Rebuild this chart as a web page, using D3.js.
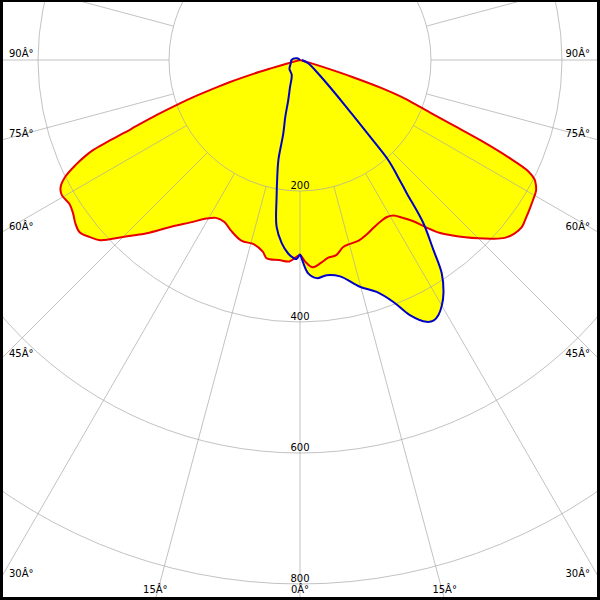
<!DOCTYPE html>
<html><head><meta charset="utf-8">
<script src="https://cdn.jsdelivr.net/npm/d3@7"></script>
<style>html,body{margin:0;padding:0;background:#fff;} svg{display:block}</style>
</head><body>
<script>
// C0-C180 plane (red), angle from nadir in degrees, intensity
const redAngles = [-90,-75,-74.5,-74,-73.7,-73,-72.5,-72,-71,-70,-69,-68,-67.5,-67,-66.5,-66,-65,-63.5,-62,-60.5,-58,-56,-54,-52,-50,-48,-45,-41.5,-38,-34,-30.5,-28,-25,-22,-18,-14,-11,-9.5,-6,-3,0,1.5,3.5,6,8,10.5,13,15,18,21,24,27,29,31,33,35,37,39,41,43,45,47,49,51,53,55,57,59,61,62,63,64,65,66,67,68,69,70,71,72,73,74,75,90];
const redValues = [0,0,20,45,64,92,113,130,165,200,235,270,290,318,344,357,377,401,414,418,415,418,424,427,420,411,382,353,324,299,281,273,273,281,290,290,298,307,307,308,298,308,317,311,305,303,293,291,290,285,279,275,274,277,287,300,320,340,355,370,385,400,414,421,424,421,418,415,412,408,402,388,350,302,250,215,189,165,132,85,40,12,0,0];
// C90-C270 plane (blue)
const blueAngles = [-180,-120,-90,-70,-50,-29,-20,-16.3,-14.5,-12.8,-12.2,-11,-9.7,-8,-5.7,-3.5,-2,-1,0,0.6,2.2,4.4,7.1,10.5,14.8,18.3,21.1,23.3,25.8,27.2,28.5,30,31.6,33.6,35.1,37.1,38.7,40,41.4,42.4,43.4,45,48.9,55,68,90];
const blueValues = [0,5,13,15,21,26,45,64,90,115,156,182,212,257,281,296,302,304,297,305,326,334,331,336,358,373,396,424,444,447,443,433,418,391,354,312,261,232,204,159,126,94,54,30,14,3];
// grid
const ringValues = [200,400,600,800,1000];
const ringLabels = ["200","400","600","800"];
const spokeAngles = [0,15,30,45,60,75,90,105,120,135,150,165,180,195,210,225,240,255,270,285,300,315,330,345];
const sideLabelAngles = [90,75,60,45,30];
const sideLabels = ["90Â°","75Â°","60Â°","45Â°","30Â°"];
const bottomLabelAngles = [-15,0,15];
const bottomLabels = ["15Â°","0Â°","15Â°"];

const W = 600, H = 600, cx = 300, cy = 60;
const r = d3.scaleLinear().domain([0, 200]).range([0, 131]);
const ang = d => Math.PI - d * Math.PI / 180;

const svg = d3.select("body").append("svg").attr("width", W).attr("height", H);
svg.append("rect").attr("width", W).attr("height", H).attr("fill", "#fff");
const g = svg.append("g").attr("transform", `translate(${cx},${cy})`);

const line = d3.lineRadial().curve(d3.curveCatmullRom.alpha(0.5));
const redPts = redAngles.map((a, i) => [ang(a), r(redValues[i])]);
const bluePts = blueAngles.map((a, i) => [ang(a), r(blueValues[i])]);

g.append("path").attr("d", line(redPts) + "Z").attr("fill", "#ffff00").attr("stroke", "none");
g.append("path").attr("d", line(bluePts) + "Z").attr("fill", "#ffff00").attr("stroke", "none");

// grid over the fill
const grid = g.append("g").attr("stroke", "#a8a8a8").attr("stroke-opacity", 0.7).attr("fill", "none").attr("stroke-width", 1);
grid.selectAll("circle").data(ringValues).join("circle").attr("r", d => r(d));
grid.selectAll("line").data(spokeAngles).join("line")
  .attr("x1", d => r(200) * Math.sin(ang(d))).attr("y1", d => -r(200) * Math.cos(ang(d)))
  .attr("x2", d => r(2000) * Math.sin(ang(d))).attr("y2", d => -r(2000) * Math.cos(ang(d)));

g.append("path").attr("d", line(redPts)).attr("fill", "none").attr("stroke", "#e80000").attr("stroke-width", 2).attr("stroke-linejoin", "round");
g.append("path").attr("d", line(bluePts)).attr("fill", "none").attr("stroke", "#0000c8").attr("stroke-width", 2).attr("stroke-linejoin", "round");

const txt = svg.append("g").attr("font-family", "DejaVu Sans, sans-serif").attr("font-size", 10).attr("fill", "#000");
txt.selectAll("text.rv").data(ringLabels).join("text").attr("class", "rv")
  .attr("x", cx).attr("y", d => cy + r(+d) - 2.5).attr("text-anchor", "middle").text(d => d);
const sideY = a => cy + (a === 90 ? 0 : 300 / Math.tan(a * Math.PI / 180)) - 3;
txt.selectAll("text.sl").data(sideLabelAngles).join("text").attr("class", "sl")
  .attr("x", 9).attr("y", d => sideY(d)).text((d, i) => sideLabels[i]);
txt.selectAll("text.sr").data(sideLabelAngles).join("text").attr("class", "sr")
  .attr("x", 590).attr("y", d => sideY(d)).attr("text-anchor", "end").text((d, i) => sideLabels[i]);
txt.selectAll("text.bl").data(bottomLabelAngles).join("text").attr("class", "bl")
  .attr("x", d => cx + 540 * Math.tan(d * Math.PI / 180)).attr("y", 593).attr("text-anchor", "middle")
  .text((d, i) => bottomLabels[i]);

// frame
const fr = svg.append("g").attr("fill", "#000");
fr.append("rect").attr("x", 0).attr("y", 0).attr("width", W).attr("height", 2);
fr.append("rect").attr("x", 0).attr("y", 0).attr("width", 3).attr("height", H);
fr.append("rect").attr("x", W - 3).attr("y", 0).attr("width", 3).attr("height", H);
fr.append("rect").attr("x", 0).attr("y", H - 3).attr("width", W).attr("height", 3);
</script>
</body></html>
